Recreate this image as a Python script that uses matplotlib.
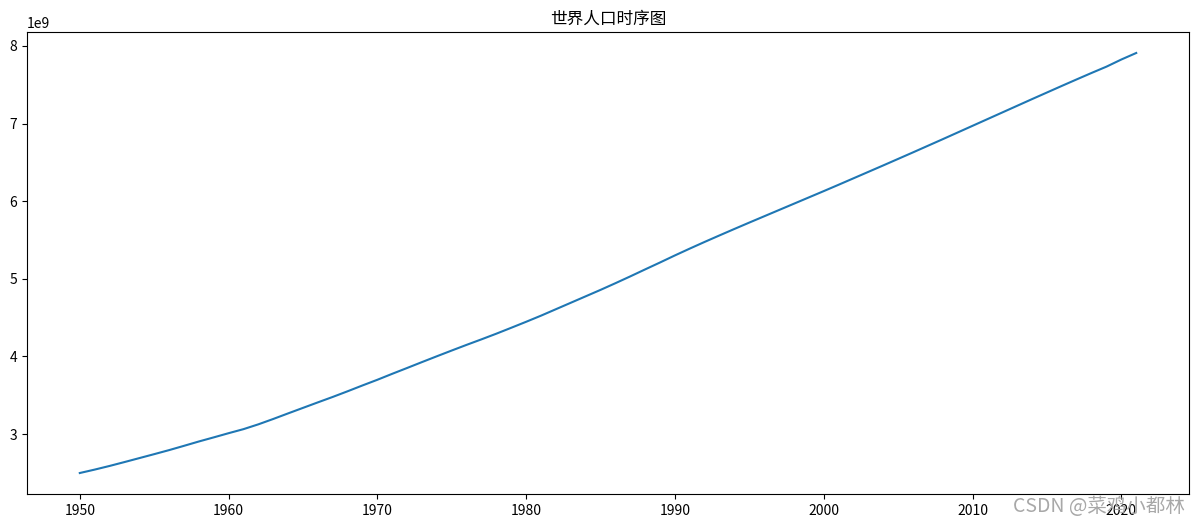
import matplotlib
matplotlib.use("Agg")
import matplotlib.pyplot as plt
import numpy as np

plt.rcParams['font.family'] = ['Noto Sans CJK SC', 'DejaVu Sans']
plt.rcParams['axes.unicode_minus'] = False

# world population by year
years = list(range(1950, 2022))
population = [
    2.499, 2.543, 2.590, 2.640, 2.691, 2.742, 2.794, 2.849, 2.905, 2.958,
    3.012, 3.064, 3.126, 3.195, 3.267, 3.338, 3.409, 3.479, 3.552, 3.627,
    3.700, 3.777, 3.852, 3.928, 4.003, 4.077, 4.150, 4.221, 4.294, 4.370,
    4.447, 4.526, 4.609, 4.692, 4.775, 4.858, 4.944, 5.032, 5.122, 5.211,
    5.302, 5.390, 5.476, 5.560, 5.643, 5.725, 5.806, 5.887, 5.968, 6.049,
    6.130, 6.212, 6.295, 6.378, 6.461, 6.545, 6.629, 6.714, 6.799, 6.885,
    6.971, 7.057, 7.143, 7.229, 7.315, 7.400, 7.485, 7.569, 7.652, 7.733,
    7.825, 7.909,
]
population = np.array(population) * 1e9

fig = plt.figure(figsize=(11.99, 5.26), dpi=100)
ax = fig.add_axes([0.0225, 0.0608, 0.9692, 0.8784])
ax.plot(years, population)
ax.set_title("世界人口时序图", fontsize=12)

# watermark
fig.text(0.988, 0.018, "CSDN @菜鸡小都林", color="#a8a8a8", fontsize=14,
         ha="right", va="bottom")

fig.savefig("out.png", dpi=100)
